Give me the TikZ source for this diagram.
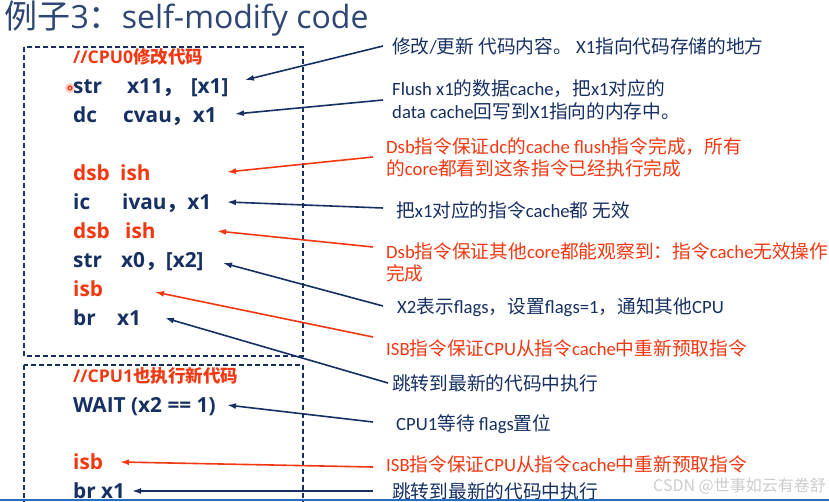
\documentclass[tikz,border=0pt]{standalone}
\usepackage{fontspec}
\usepackage{xcolor}
\usetikzlibrary{arrows.meta}
\setmainfont{Carlito}
\newfontfamily\zhfont{Noto Sans CJK SC}
\newfontfamily\wideface{Open Sans}
% switch to the CJK font for Chinese characters and back again
\def\latinfam{\rmfamily}
\def\zhsw{\zhfont}
\XeTeXinterchartokenstate=1
\newXeTeXintercharclass\zhclass
\count255="4E00
\loop\XeTeXcharclass\count255=\zhclass
\ifnum\count255<"9FFF \advance\count255 by 1 \repeat
\XeTeXcharclass"3002=\zhclass
\XeTeXcharclass"FF0C=\zhclass
\XeTeXcharclass"FF1A=\zhclass
\XeTeXinterchartoks 0 \zhclass={\zhsw}
\XeTeXinterchartoks 4095 \zhclass={\zhsw}
\XeTeXinterchartoks \zhclass 0={\latinfam}
\XeTeXinterchartoks \zhclass 4095={\latinfam}
\definecolor{codenavy}{RGB}{22,48,98}
\definecolor{notered}{RGB}{242,56,18}
\definecolor{titleblue}{RGB}{45,70,115}
\definecolor{barblue}{RGB}{40,110,190}

\begin{document}
\begin{tikzpicture}[x=1pt, y=-1pt,
  code/.style={anchor=base west, inner sep=0pt, text=codenavy,
               font=\fontsize{20.8}{24}\selectfont\bfseries\wideface
                    \def\latinfam{\wideface}},
  redcode/.style={code, text=notered},
  cmt/.style={code, text=notered,
              font=\fontsize{17.5}{20}\selectfont\bfseries\wideface
                   \def\latinfam{\wideface}},
  note/.style={anchor=base west, inner sep=0pt, text=codenavy,
               font=\fontsize{18.7}{22}\selectfont},
  rednote/.style={note, text=notered},
  wmark/.style={anchor=base west, inner sep=0pt, text=black!20,
                font=\fontsize{16}{18}\selectfont\zhfont},
  title/.style={anchor=base west, inner sep=0pt, text=titleblue,
                font=\fontsize{32}{36}\selectfont\wideface
                     \def\latinfam{\wideface\fontsize{32}{36}\selectfont}
                     \def\zhsw{\zhfont\fontsize{33}{36}\selectfont}},
  navyarr/.style={draw=codenavy, line width=1.6pt,
                  -{Latex[length=9pt,width=6pt]}},
  redarr/.style={navyarr, draw=notered},
  dashbox/.style={draw=codenavy, line width=1.9pt, dash pattern=on 5pt off 3pt}]

  \useasboundingbox (0,0) rectangle (829,501);
  \clip (0,0) rectangle (829,501);
  \fill[white] (0,0) rectangle (829,501);

  \node[title] (ttl) at (-4,28) {例子3：self-modify code};

  % code boxes
  \draw[dashbox] (24,47) rectangle (303,356);
  \draw[dashbox] (24,365) rectangle (303,520);

  \node[cmt] (cpu0) at (73,63) {//CPU0修改代码};
  \node[code] (c1) at (73,93) {\makebox[54pt][l]{str}x11，\hspace{7pt}[x1]};
  \node[code] (c2) at (73,122) {\makebox[50pt][l]{dc}cvau，x1};
  \node[redcode] (c3) at (73,180) {\makebox[47pt][l]{dsb}ish};
  \node[code] (c4) at (73,209) {\makebox[49pt][l]{ic}ivau，x1};
  \node[redcode] (c5) at (73,238) {\makebox[52pt][l]{dsb}ish};
  \node[code] (c6) at (73,267) {\makebox[48pt][l]{str}x0，[x2]};
  \node[redcode] (c7) at (73,296) {isb};
  \node[code] (c8) at (73,325) {\makebox[44pt][l]{br}x1};

  \node[cmt] (cpu1) at (73,382) {//CPU1也执行新代码};
  \node[code] (c9) at (73,412) {WAIT (x2 == 1)};
  \node[redcode] (c10) at (73,469) {isb};
  \node[code] (c11) at (73,498) {br x1};

  % laser pointer
  \fill[notered!25] (70,88) circle (5);
  \draw[notered, line width=1.2pt] (70,88) circle (2);

  % notes
  \node[note] (a1) at (392,53) {修改/更新 代码内容。 X1指向代码存储的地方};
  \node[note] (a2) at (392,95) {Flush x1的数据cache，把x1对应的};
  \node[note] (a2b) at (392,118) {data cache回写到X1指向的内存中。};
  \node[rednote] (a3) at (386,153) {Dsb指令保证dc的cache flush指令完成，所有};
  \node[rednote] (a3b) at (386,175) {的core都看到这条指令已经执行完成};
  \node[note] (a4) at (396,217) {把x1对应的指令cache都 无效};
  \node[rednote] (a5) at (386,258) {Dsb指令保证其他core都能观察到：指令cache无效操作};
  \node[rednote] (a5b) at (386,280) {完成};
  \node[note] (a6) at (397,313) {X2表示flags，设置flags=1，通知其他CPU};
  \node[rednote] (a7) at (386,355) {ISB指令保证CPU从指令cache中重新预取指令};
  \node[note] (a8) at (392,390) {跳转到最新的代码中执行};
  \node[note] (a9) at (396,430) {CPU1等待 flags置位};
  \node[rednote] (a10) at (386,471) {ISB指令保证CPU从指令cache中重新预取指令};
  \node[note] (a11) at (392,498) {跳转到最新的代码中执行};

  \node[wmark] (csdn) at (653,491) {CSDN @世事如云有卷舒};

  % arrows
  \draw[navyarr] ([shift={(-9,-7)}]a1.base west) -- ([shift={(172,-13)}]c1.base west);
  \draw[navyarr] ([shift={(-9,5)}]a2.base west) -- ([shift={(162,-8)}]c2.base west);
  \draw[redarr] ([shift={(-13,4)}]a3.base west) -- ([shift={(154,-8)}]c3.base west);
  \draw[navyarr] ([shift={(-13,-9)}]a4.base west) -- ([shift={(154,-7)}]c4.base west);
  \draw[redarr] ([shift={(-13,-11)}]a5.base west) -- ([shift={(144,-7)}]c5.base west);
  \draw[navyarr] ([shift={(-14,-7)}]a6.base west) -- ([shift={(150,-4)}]c6.base west);
  \draw[redarr] ([shift={(-13,-18)}]a7.base west) -- ([shift={(82,-4)}]c7.base west);
  \draw[navyarr] ([shift={(-4,-7)}]a8.base west) -- ([shift={(92,-7)}]c8.base west);
  \draw[navyarr] ([shift={(-23,-8)}]a9.base west) -- ([shift={(154,-7)}]c9.base west);
  \draw[redarr] ([shift={(-13,-4)}]a10.base west) -- ([shift={(47,-7)}]c10.base west);
  \draw[navyarr] ([shift={(-19,-7)}]a11.base west) -- ([shift={(59,-7)}]c11.base west);

  \draw[barblue, line width=2pt] (0,500) -- (829,500);
\end{tikzpicture}
\end{document}
